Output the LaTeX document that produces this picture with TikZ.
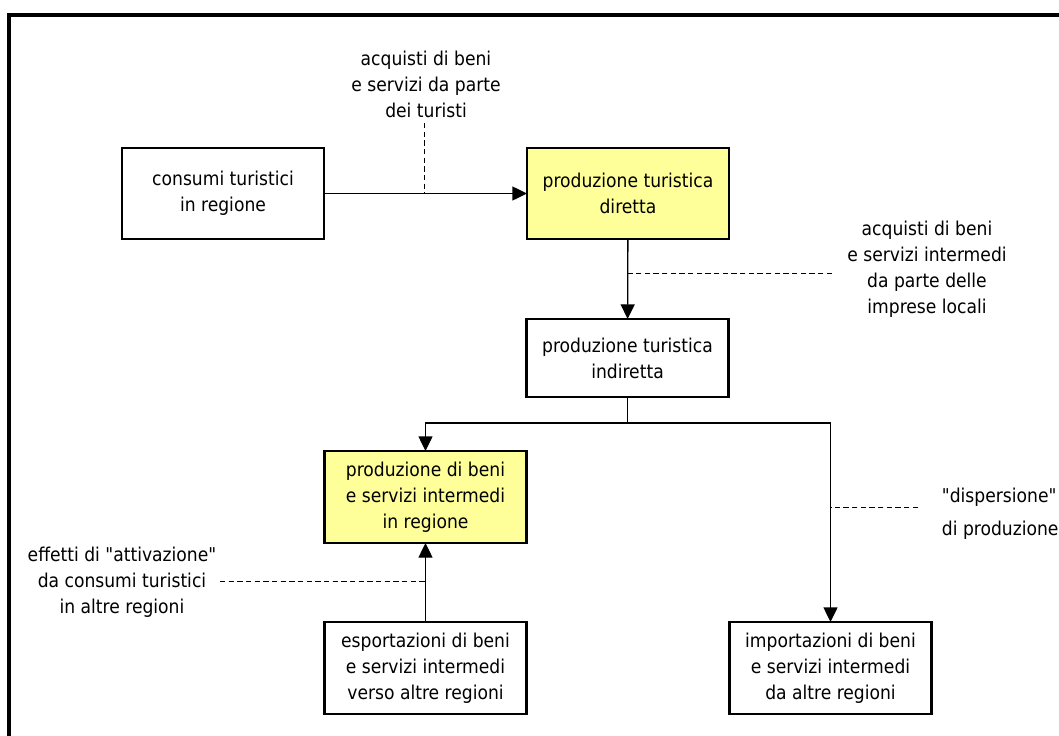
\documentclass[tikz,border=0pt]{standalone}
\usepackage{fontspec}
\setmainfont{DejaVu Sans Condensed}[Ligatures=TeXOff]
\usetikzlibrary{arrows.meta}
\definecolor{boxyellow}{HTML}{FFFF99}

\begin{document}
\begin{tikzpicture}[x=0.75pt, y=-0.75pt,
    box/.style={draw, line width=1.8pt, minimum width=151.5pt, minimum height=68.25pt, align=center, font=\fontsize{14.3}{19.5}\selectfont, inner sep=0pt, outer sep=0pt},
    hl/.style={fill=boxyellow},
    lbl/.style={align=center, font=\fontsize{14.3}{19.5}\selectfont, inner sep=2pt},
    arr/.style={-{Triangle[length=11pt, width=10.5pt]}, line width=1pt},
    conn/.style={line width=1pt},
    lead/.style={dash pattern=on 4pt off 2.5pt, line width=0.75pt},
    frame/.style={line width=2.4pt}
]
\useasboundingbox (0,0) rectangle (1059,735);
\draw[frame] (9,745) -- (9,15) -- (1070,15);

\node[box] (cons) at (223,193.5) {consumi turistici\\in regione};
\node[box, hl] (dir) at (628,193.5) {produzione turistica\\diretta};
\node[box, minimum height=58.5pt] (ind) at (627.5,358) {produzione turistica\\indiretta};
\node[box, hl, minimum height=69pt] (prodreg) at (425.5,497) {produzione di beni\\e servizi intermedi\\in regione};
\node[box, minimum height=69pt] (esp) at (425.5,668) {esportazioni di beni\\e servizi intermedi\\verso altre regioni};
\node[box, minimum height=69pt] (imp) at (830.5,668) {importazioni di beni\\e servizi intermedi\\da altre regioni};

\node[lbl] (ltur) at (426,84) {acquisti di beni\\e servizi da parte\\dei turisti};
\node[lbl] (limp) at (927,269) {acquisti di beni\\e servizi intermedi\\da parte delle\\imprese locali};
\node[lbl] (latt) at (122,582) {effetti di "attivazione"\\da consumi turistici\\in altre regioni};
\node[lbl, align=left, anchor=west] (ldisp) at (939,514) {"dispersione"\\[5pt]di produzione};

\coordinate (jn) at (627.5,423);
\coordinate (t1) at (424,123);
\coordinate (i1) at (832,273);
\coordinate (a1) at (220,581);
\coordinate (d1) at (918,507);

\draw[arr] (cons) -- (dir);
\draw[arr] (dir) -- (ind);
\draw[conn] (ind) -- (jn);
\draw[arr] (jn) -| (prodreg);
\draw[arr] (jn) -| (imp);
\draw[arr] (esp) -- (prodreg);

\draw[lead] (t1) -- (t1 |- cons.east);
\draw[lead] (i1) -- (i1 -| dir.south);
\draw[lead] (a1) -- (a1 -| prodreg.south);
\draw[lead] (d1) -- (d1 -| imp.north);
\end{tikzpicture}
\end{document}
